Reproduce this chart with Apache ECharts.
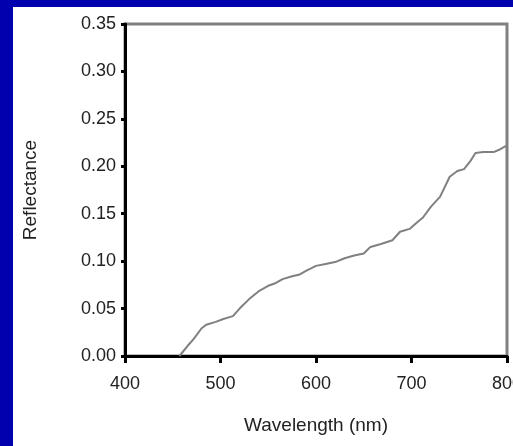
<!DOCTYPE html>
<html>
<head>
<meta charset="utf-8">
<script src="https://cdn.jsdelivr.net/npm/echarts@6/dist/echarts.min.js"></script>
<style>
html,body{margin:0;padding:0;background:#0000AE;width:513px;height:446px;overflow:hidden;}
#chart{position:absolute;left:13px;top:7px;width:500px;height:439px;background:#ffffff;}
</style>
</head>
<body>
<div id="chart"></div>
<script>
// Wavelength (nm) samples
var wavelengths = [457,465,472,480,485,495,503,513,520,530,541,550,558,565,575,583,590,600,610,620,630,640,650,657,668,680,688,698,706,712,720,730,740,748,755,762,767,775,786,793,800];
// Reflectance values
var reflectance = [0.000,0.010,0.018,0.029,0.033,0.036,0.039,0.042,0.050,0.060,0.069,0.074,0.077,0.081,0.084,0.086,0.090,0.095,0.097,0.099,0.103,0.106,0.108,0.115,0.118,0.122,0.131,0.134,0.141,0.146,0.157,0.168,0.189,0.195,0.197,0.206,0.214,0.215,0.215,0.218,0.222];
var xTitle = 'Wavelength (nm)';
var yTitle = 'Reflectance';

var pts = wavelengths.map(function(w, i){ return [w, reflectance[i]]; });
var chart = echarts.init(document.getElementById('chart'), null, {renderer:'canvas'});
var txt = {fontFamily:'Liberation Sans, Arial, sans-serif', fontSize:18, color:'#222'};
chart.setOption({
  animation:false,
  grid:{left:112, top:17, right:6, bottom:90, show:true, borderColor:'#808080', borderWidth:3, backgroundColor:'#ffffff', containLabel:false, outerBoundsMode:'none'},
  xAxis:{
    type:'value', min:400, max:800, interval:100,
    name:xTitle, nameLocation:'middle', nameGap:60,
    nameTextStyle:Object.assign({}, txt, {fontSize:19}),
    axisLine:{show:true, lineStyle:{color:'#000', width:3}},
    axisTick:{show:true, length:7, lineStyle:{color:'#000', width:3}},
    axisLabel:Object.assign({}, txt, {margin:19}),
    splitLine:{show:false}
  },
  yAxis:{
    type:'value', min:0, max:0.35, interval:0.05,
    name:yTitle, nameLocation:'middle', nameGap:85,
    nameTextStyle:Object.assign({}, txt, {fontSize:19}),
    axisLine:{show:true, lineStyle:{color:'#000', width:3}},
    axisTick:{show:true, length:4, lineStyle:{color:'#000', width:3}},
    axisLabel:Object.assign({}, txt, {margin:9, formatter:function(v){return v.toFixed(2);}}),
    splitLine:{show:false}
  },
  series:[{
    type:'line', data:pts, showSymbol:false, symbol:'none',
    lineStyle:{color:'#808080', width:2}, z:1
  }]
});
</script>
</body>
</html>
